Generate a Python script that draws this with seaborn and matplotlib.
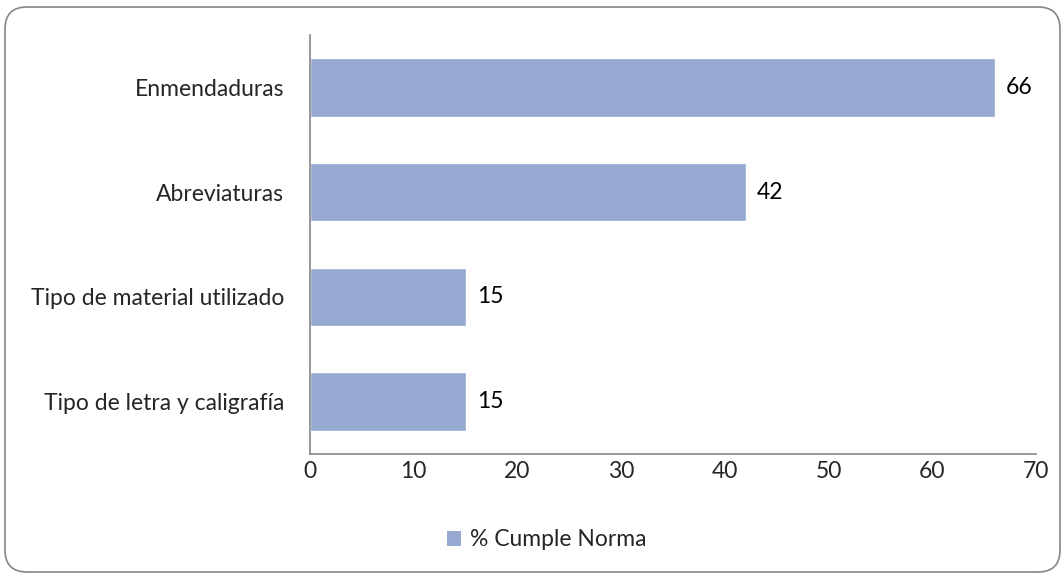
import matplotlib
matplotlib.use("Agg")
import matplotlib.pyplot as plt
from matplotlib.patches import FancyBboxPatch, Patch
import pandas as pd
import seaborn as sns

categories = ["Enmendaduras", "Abreviaturas", "Tipo de material utilizado", "Tipo de letra y caligrafía"]
values = [66, 42, 15, 15]
series_name = "% Cumple Norma"
xticks = [0, 10, 20, 30, 40, 50, 60, 70]

df = pd.DataFrame({"Categoria": categories, "Valor": values})

sns.set_style("white")
plt.rcParams["font.family"] = ["Lato", "DejaVu Sans"]
fs = 16.5

fig = plt.figure(figsize=(10.62, 5.73), dpi=100)
ax = fig.add_axes([310 / 1062, 1 - 454 / 573, (1036 - 310) / 1062, (454 - 35) / 573])

bar_color = "#95A9D1"
sns.barplot(data=df, x="Valor", y="Categoria", orient="h", color=bar_color,
            width=0.56, saturation=1, ax=ax)

for i, v in enumerate(values):
    ax.text(v + 1.1, i, str(v), va="center", ha="left", fontsize=fs, color="black")

ax.set_xlim(0, 70)
ax.set_ylim(3.5, -0.5)
ax.set_xticks(xticks)
ax.set_xticklabels([str(t) for t in xticks], fontsize=fs)
ax.tick_params(axis="y", labelsize=fs, length=0, pad=18.5)
ax.tick_params(axis="x", length=0, pad=5)
ax.set_xlabel("")
ax.set_ylabel("")
for s in ["top", "right"]:
    ax.spines[s].set_visible(False)
for s in ["left", "bottom"]:
    ax.spines[s].set_color("#868686")
    ax.spines[s].set_linewidth(1.2)

handle = Patch(facecolor=bar_color, edgecolor="none")
fig.legend([handle], [series_name], loc="center", bbox_to_anchor=(547 / 1062, 1 - 540 / 573),
           frameon=False, fontsize=fs, handlelength=0.6, handleheight=0.6, handletextpad=0.4)

# rounded chart-area border, in pixels (dpi fixed at 100)
border = FancyBboxPatch((5, 1), 1055, 565,
                        boxstyle="round,pad=0,rounding_size=22",
                        transform=None, facecolor="none",
                        edgecolor="#868686", linewidth=1.2)
fig.patches.append(border)

fig.savefig("out.png", dpi=100)
